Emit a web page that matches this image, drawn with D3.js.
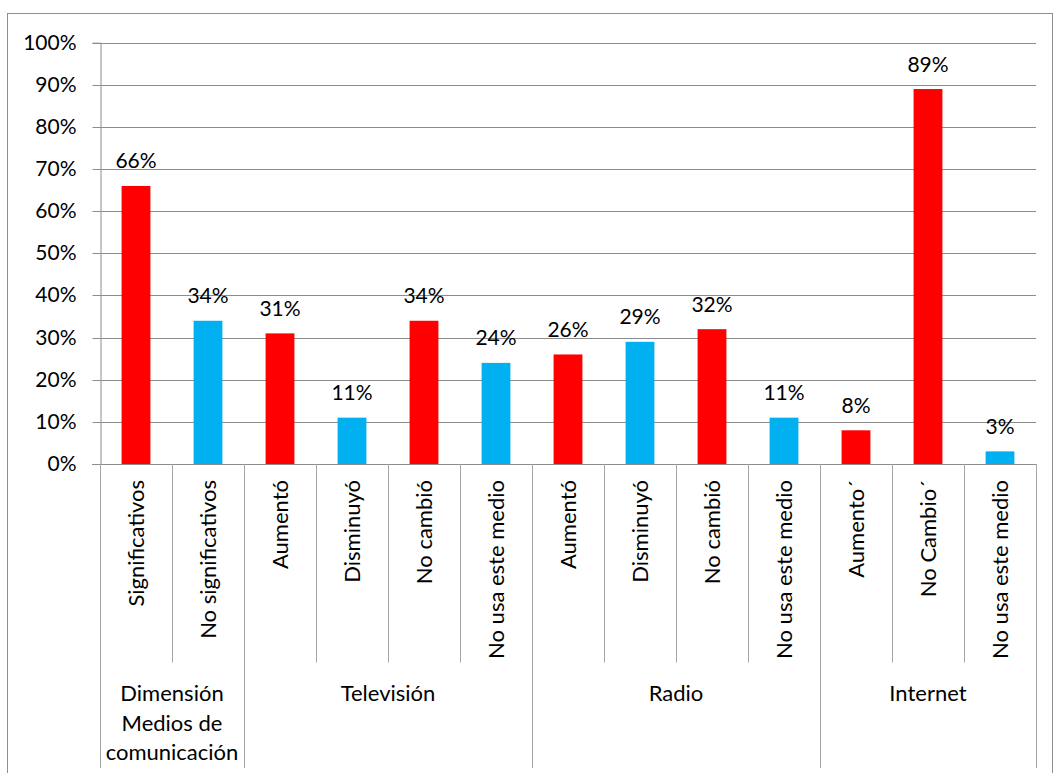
<!DOCTYPE html>
<html>
<head>
<meta charset="utf-8">
<script src="https://cdn.jsdelivr.net/npm/d3@7"></script>
<style>
  html, body { margin: 0; padding: 0; background: #fff; }
  svg { display: block; }
  text { font-family: Lato, "Open Sans", sans-serif; fill: #000; }
</style>
</head>
<body>
<svg id="chart" width="1054" height="773"></svg>
<script>
// Category labels (bottom level) and their percentage values
const categories = [
  "Significativos", "No significativos",
  "Aumentó", "Disminuyó", "No cambió", "No usa este medio",
  "Aumentó", "Disminuyó", "No cambió", "No usa este medio",
  "Aumento´", "No Cambio´", "No usa este medio"
];
const values = [66, 34, 31, 11, 34, 24, 26, 29, 32, 11, 8, 89, 3];

// Group labels (top level) and how many categories each spans
const groups = [
  ["Dimensión", "Medios de", "comunicación"],
  ["Televisión"],
  ["Radio"],
  ["Internet"]
];
const groupSizes = [2, 4, 4, 3];

// Which of the two fills each bar takes
const tone = [0, 1, 0, 1, 0, 1, 0, 1, 0, 1, 0, 0, 1];
const palette = ["#FF0000", "#00B0F0"];

const yTicks = [0, 10, 20, 30, 40, 50, 60, 70, 80, 90, 100];

const svg = d3.select("#chart");
const plot = { left: 100, right: 1036, top: 42.7, bottom: 464 };
const numSize = 21;   // tick and value labels
const wordSize = 22;  // category and group labels

// Outer chart frame
svg.append("rect")
  .attr("x", 7.5).attr("y", 13.5)
  .attr("width", 1045).attr("height", 790)
  .attr("fill", "none").attr("stroke", "#8f8f8f").attr("stroke-width", 1);

const x = d3.scaleBand()
  .domain(d3.range(categories.length))
  .range([plot.left, plot.right])
  .paddingInner(0.6).paddingOuter(0.3);
const step = x.step();
const y = d3.scaleLinear().domain([0, 100]).range([plot.bottom, plot.top]);

// Horizontal gridlines
svg.append("g").selectAll("line")
  .data(yTicks.filter(d => d > 0))
  .join("line")
  .attr("x1", plot.left).attr("x2", plot.right)
  .attr("y1", d => Math.round(y(d)) + 0.5).attr("y2", d => Math.round(y(d)) + 0.5)
  .attr("stroke", "#8c8c8c").attr("stroke-width", 1);

// Y axis
const yAxis = d3.axisLeft(y)
  .tickValues(yTicks)
  .tickSize(8)
  .tickPadding(16)
  .tickFormat(d => d + "%");
const yg = svg.append("g")
  .attr("transform", `translate(${plot.left + 0.5},0)`)
  .call(yAxis);
yg.select(".domain").attr("stroke", "#8c8c8c");
yg.selectAll(".tick line").attr("stroke", "#8c8c8c");
yg.selectAll(".tick").attr("transform", d => `translate(0,${Math.round(y(d)) + 0.5})`);
yg.selectAll("text")
  .style("font-family", "Lato, 'Open Sans', sans-serif")
  .style("font-size", numSize + "px")
  .attr("fill", "#000");

// Bars
svg.append("g").selectAll("rect")
  .data(values)
  .join("rect")
  .attr("x", (d, i) => x(i))
  .attr("width", x.bandwidth())
  .attr("y", d => y(d))
  .attr("height", d => y(0) - y(d))
  .attr("fill", (d, i) => palette[tone[i]]);

// Value labels above bars
svg.append("g").selectAll("text")
  .data(values)
  .join("text")
  .attr("x", (d, i) => x(i) + x.bandwidth() / 2)
  .attr("y", d => y(d) - 17.5)
  .attr("text-anchor", "middle")
  .style("font-size", numSize + "px")
  .text(d => d + "%");

// X axis baseline
svg.append("line")
  .attr("x1", plot.left - 8).attr("x2", plot.right)
  .attr("y1", plot.bottom + 0.5).attr("y2", plot.bottom + 0.5)
  .attr("stroke", "#8c8c8c");

// Category separators: short ones inside groups, long ones at group edges
const groupEdges = [0];
groupSizes.forEach(n => groupEdges.push(groupEdges[groupEdges.length - 1] + n));
const sepLevel1 = 662.5, sepLevel2 = 768;
svg.append("g").selectAll("line")
  .data(d3.range(categories.length + 1))
  .join("line")
  .attr("x1", i => Math.round(plot.left + i * step) + 0.5)
  .attr("x2", i => Math.round(plot.left + i * step) + 0.5)
  .attr("y1", plot.bottom)
  .attr("y2", i => groupEdges.includes(i) ? sepLevel2 : sepLevel1)
  .attr("stroke", "#a6a6a6");

// Rotated category labels
svg.append("g").selectAll("text")
  .data(categories)
  .join("text")
  .attr("transform", (d, i) => `translate(${x(i) + x.bandwidth() / 2},${480}) rotate(-90)`)
  .attr("text-anchor", "end")
  .attr("dy", "0.36em")
  .style("font-size", wordSize + "px")
  .text(d => d);

// Group labels
groups.forEach((lines, g) => {
  const cx = plot.left + (groupEdges[g] + groupEdges[g + 1]) / 2 * step;
  svg.append("text")
    .attr("x", cx)
    .attr("y", 701)
    .attr("text-anchor", "middle")
    .style("font-size", wordSize + "px")
    .selectAll("tspan")
    .data(lines)
    .join("tspan")
    .attr("x", cx)
    .attr("dy", (d, i) => i === 0 ? 0 : 29.5)
    .text(d => d);
});
</script>
</body>
</html>
